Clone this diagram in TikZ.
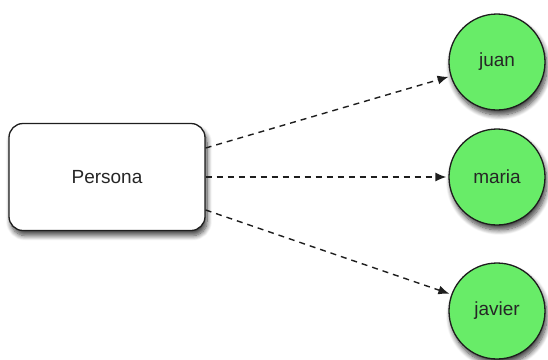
\documentclass[tikz,border=0pt]{standalone}
\usepackage{fontspec}
\setmainfont{Liberation Sans}
\usetikzlibrary{shadows.blur,arrows.meta}
\definecolor{nodegreen}{RGB}{104,236,104}
\definecolor{edgegray}{RGB}{30,30,30}
\tikzset{
  shad/.style={blur shadow={shadow xshift=2pt,shadow yshift=-5pt,shadow blur steps=10,shadow opacity=75,shadow blur radius=5pt}},
  personbox/.style={draw=edgegray,line width=1.3pt,fill=white,rounded corners=14pt,minimum width=196pt,minimum height=107pt,inner sep=0pt,shad,text=black!85,font=\fontsize{19}{22}\selectfont},
  person/.style={circle,draw=edgegray,line width=1.3pt,fill=nodegreen,minimum size=96pt,inner sep=0pt,shad,text=black!85,font=\fontsize{19}{22}\selectfont},
  link/.style={draw=edgegray,line width=1.4pt,dash pattern=on 6pt off 5pt,-{Latex[length=11pt,width=9pt]},shorten >=2pt}
}
\begin{document}
\begin{tikzpicture}[x=1pt,y=-1pt]
\useasboundingbox (0,0) rectangle (548,359);
\node[personbox] (p) at (107,177) {Persona};
\node[person] (j) at (497,62) {juan};
\node[person] (m) at (497,177) {maria};
\node[person] (v) at (497,311) {javier};
\draw[link] ([yshift=29pt]p.east) -- (j.197);
\draw[link] (p.east) -- (m.180);
\draw[link] ([yshift=-33pt]p.east) -- (v.160);
\end{tikzpicture}
\end{document}
